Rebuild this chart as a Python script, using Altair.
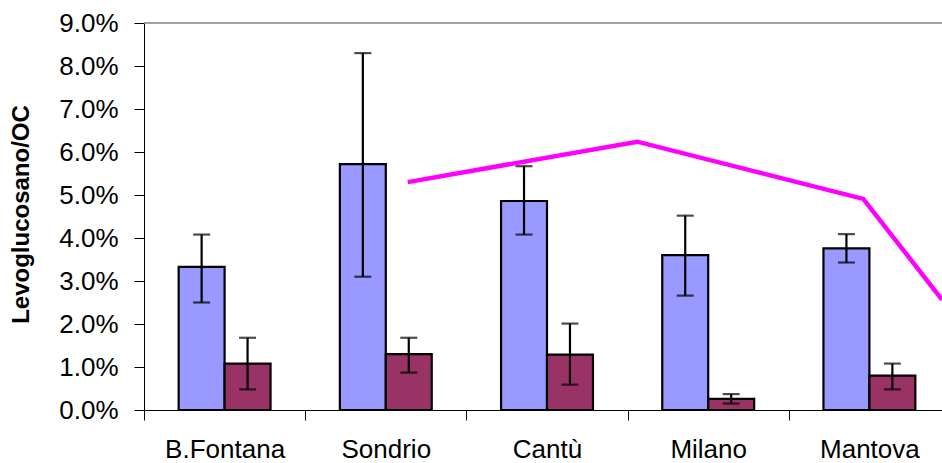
import altair as alt
import pandas as pd

# ---- data ----
sites = ["B.Fontana", "Sondrio", "Cantù", "Milano", "Mantova"]
series_names = ["Serie 1", "Serie 2"]

serie1 = [0.0333, 0.0572, 0.0486, 0.0360, 0.0376]
serie1_lo = [0.0250, 0.0310, 0.0408, 0.0266, 0.0343]
serie1_hi = [0.0408, 0.0830, 0.0567, 0.0452, 0.0409]

serie2 = [0.0108, 0.0130, 0.0129, 0.0026, 0.0080]
serie2_lo = [0.0048, 0.0087, 0.0059, 0.0015, 0.0048]
serie2_hi = [0.0168, 0.0168, 0.0201, 0.0037, 0.0108]

# magenta line (positions in category-step units, on its own x scale)
line_pos = [1.636, 3.060, 4.462, 4.950]
line_val = [0.0530, 0.0624, 0.0491, 0.0257]

y_ticks = [0.00, 0.01, 0.02, 0.03, 0.04, 0.05, 0.06, 0.07, 0.08, 0.09]

colors = ["#9999FF", "#993366"]

# ---- tables ----
rows = []
for i, s in enumerate(sites):
    rows.append({"site": s, "serie": series_names[0], "value": serie1[i],
                 "lo": serie1_lo[i], "hi": serie1_hi[i]})
    rows.append({"site": s, "serie": series_names[1], "value": serie2[i],
                 "lo": serie2_lo[i], "hi": serie2_hi[i]})
bars_df = pd.DataFrame(rows)
line_df = pd.DataFrame({"pos": line_pos, "ratio": line_val})
one_df = pd.DataFrame({"k": [0]})

PLOT_W = 798
RANGE_W = 806
STEP = RANGE_W / 5
PLOT_H = 387

x_band = alt.X(
    "site:N", sort=sites,
    scale=alt.Scale(range=[0, RANGE_W], paddingInner=0.43, paddingOuter=0.215),
    axis=alt.Axis(title=None, labelAngle=0, tickSize=10, labelPadding=16,
                  tickOffset=-STEP / 2, labelOffset=STEP / 2,
                  domainColor="black", tickColor="black", domainWidth=1,
                  tickWidth=1, labelFontSize=26, labelColor="black",
                  labelFont="Liberation Sans", grid=False),
)
x_off = alt.XOffset("serie:N", sort=series_names,
                    scale=alt.Scale(paddingInner=0, paddingOuter=0))
y_scale = alt.Scale(domain=[0, 0.09], nice=False, zero=True)
y_axis = alt.Axis(values=y_ticks, format=".1%", tickSize=10, labelPadding=16,
                  domainColor="black", tickColor="black", domainWidth=1,
                  tickWidth=1, labelFontSize=26, labelColor="black",
                  labelFont="Liberation Sans", grid=False,
                  title="Levoglucosano/OC", titleFont="Liberation Sans",
                  titleFontSize=24, titleFontWeight="bold", titleColor="black",
                  titleAngle=270, titleBaseline="alphabetic", titleAlign="center",
                  titleX=-115.7, titleY=191)

bars = alt.Chart(bars_df).mark_bar(stroke="black", strokeWidth=2.2).encode(
    x=x_band,
    xOffset=x_off,
    y=alt.Y("value:Q", scale=y_scale, axis=y_axis),
    color=alt.Color("serie:N", scale=alt.Scale(domain=series_names, range=colors),
                    legend=None),
)

err = alt.Chart(bars_df).mark_rule(color="black", strokeWidth=2.2).encode(
    x=alt.X("site:N", sort=sites),
    xOffset=x_off,
    y=alt.Y("lo:Q", scale=y_scale),
    y2="hi:Q",
)

caps = alt.Chart(bars_df).transform_fold(["lo", "hi"], as_=["end", "v"]).mark_tick(
    color="black", thickness=2.2, size=17
).encode(
    x=alt.X("site:N", sort=sites),
    xOffset=x_off,
    y=alt.Y("v:Q", scale=y_scale),
)

topline = alt.Chart(one_df).mark_rule(color="#808080", strokeWidth=1.5).encode(
    x=alt.value(0), x2=alt.value(RANGE_W), y=alt.value(0)
)

base = alt.layer(bars, err, caps, topline)

line = alt.Chart(line_df).mark_line(color="#FF00FF", strokeWidth=4.5, clip=True).encode(
    x=alt.X("pos:Q", scale=alt.Scale(domain=[0, 5], range=[0, RANGE_W],
                                     nice=False, zero=False), axis=None),
    y=alt.Y("ratio:Q", scale=y_scale),
)

chart = alt.layer(base, line).resolve_scale(x="independent").properties(
    width=PLOT_W, height=PLOT_H,
    autosize=alt.AutoSizeParams(type="none"),
    padding={"left": 144, "top": 23, "right": 0, "bottom": 53},
    background="white",
).configure_view(stroke=None)

chart.save("out.html", embed_options={"renderer": "svg", "actions": False})
